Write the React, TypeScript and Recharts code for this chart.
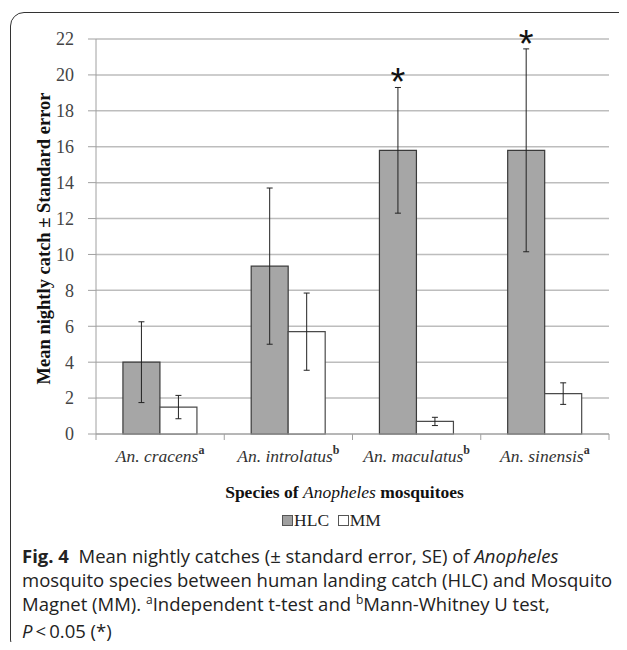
import { BarChart, Bar, XAxis, YAxis, CartesianGrid, ErrorBar, LabelList } from "recharts";

const species = ["An. cracens", "An. introlatus", "An. maculatus", "An. sinensis"];
const testMarks = ["a", "b", "b", "a"];
const hlcMean = [4.0, 9.35, 15.8, 15.8];
const hlcSE = [2.25, 4.35, 3.5, 5.65];
const mmMean = [1.5, 5.7, 0.7, 2.25];
const mmSE = [0.65, 2.15, 0.23, 0.6];
const significance = ["", "", "*", "*"];
const yTicks = [0, 2, 4, 6, 8, 10, 12, 14, 16, 18, 20, 22];

const data = species.map((name, i) => ({
  name,
  mark: testMarks[i],
  hlc: hlcMean[i],
  hlcErr: hlcSE[i],
  mm: mmMean[i],
  mmErr: mmSE[i],
  sig: significance[i],
}));

const serif = "'Liberation Serif', 'Times New Roman', serif";

const SpeciesTick = (props: any) => {
  const { x, y, payload, index } = props;
  const half = payload.offset || 64;
  return (
    <g>
      <line x1={x - half} y1={y} x2={x - half} y2={y + 6} stroke="#a0a0a0" />
      {index === species.length - 1 && (
        <line x1={x + half} y1={y} x2={x + half} y2={y + 6} stroke="#a0a0a0" />
      )}
      <text x={x} y={y + 28} textAnchor="middle" fontFamily={serif} fontSize={17.5} fill="#333">
        <tspan fontStyle="italic">{payload.value}</tspan>
        <tspan fontWeight="bold" fontSize={12} dy={-8}>
          {testMarks[index]}
        </tspan>
      </text>
    </g>
  );
};

const Star = (props: any) => {
  const { x, y, width, height, value, index } = props;
  if (!significance[index]) return null;
  const errTop = y - (hlcSE[index] / value) * height;
  return (
    <text
      x={x + width / 2}
      y={errTop + 8}
      textAnchor="middle"
      fontFamily="'Liberation Sans', Arial, sans-serif"
      fontSize={38}
      fill="#111"
    >
      {significance[index]}
    </text>
  );
};

const YTitle = (props: any) => {
  const { viewBox } = props;
  const cx = viewBox.x + 44;
  const cy = viewBox.y + viewBox.height / 2 + 2;
  return (
    <text
      x={cx}
      y={cy}
      transform={`rotate(-90, ${cx}, ${cy})`}
      textAnchor="middle"
      dominantBaseline="central"
      fontFamily={serif}
      fontWeight="bold"
      fontSize={18.5}
      fill="#111"
    >
      Mean nightly catch ± Standard error
    </text>
  );
};

const XTitle = (props: any) => {
  const { viewBox } = props;
  return (
    <text
      x={viewBox.x + viewBox.width / 2 - 8}
      y={viewBox.y + 64}
      textAnchor="middle"
      fontFamily={serif}
      fontSize={17.5}
      fill="#111"
    >
      <tspan fontWeight="bold">Species of </tspan>
      <tspan fontStyle="italic">Anopheles</tspan>
      <tspan fontWeight="bold"> mosquitoes</tspan>
    </text>
  );
};

const sq = (fill: string) => (
  <span
    style={{
      display: "inline-block",
      width: 9,
      height: 9,
      background: fill,
      border: "1px solid #555",
      marginRight: 1,
      verticalAlign: "0px",
    }}
  />
);

const supStyle = {
  fontSize: 12,
  verticalAlign: "baseline",
  position: "relative" as const,
  top: -7,
};

export default function App() {
  return (
    <div
      style={{
        position: "relative",
        width: 627,
        height: 650,
        margin: -8,
        overflow: "hidden",
        background: "#fff",
      }}
    >
      <div
        style={{
          position: "absolute",
          left: 10,
          top: 12,
          width: 660,
          height: 640,
          border: "1.5px solid #333",
          borderRadius: 14,
        }}
      />
      <div style={{ position: "absolute", left: 0, top: 0 }}>
        <BarChart
          width={627}
          height={540}
          data={data}
          margin={{ top: 39, right: 18, left: 0, bottom: 76 }}
          barCategoryGap="21%"
          barGap={0}
        >
          <CartesianGrid vertical={false} stroke="#bdbdbd" strokeWidth={1.5} />
          <XAxis
            dataKey="name"
            height={30}
            stroke="#a0a0a0"
            tickLine={false}
            tickSize={0}
            tickMargin={0}
            interval={0}
            tick={<SpeciesTick />}
            label={<XTitle />}
          />
          <YAxis
            width={96}
            domain={[0, 22]}
            ticks={yTicks}
            interval={0}
            stroke="#a0a0a0"
            tickSize={8}
            tickMargin={14}
            tick={{ fontFamily: serif, fontSize: 18, fill: "#444" }}
            label={<YTitle />}
          />
          <Bar dataKey="hlc" fill="#a6a6a6" stroke="#3a3a3a" strokeWidth={1.2} isAnimationActive={false}>
            <ErrorBar dataKey="hlcErr" width={3} stroke="#222" strokeWidth={1} />
            <LabelList dataKey="hlc" content={<Star />} />
          </Bar>
          <Bar dataKey="mm" fill="#ffffff" stroke="#4a4a4a" strokeWidth={1.2} isAnimationActive={false}>
            <ErrorBar dataKey="mmErr" width={3} stroke="#222" strokeWidth={1} />
          </Bar>
        </BarChart>
      </div>
      <div
        style={{
          position: "absolute",
          top: 510,
          left: 0,
          width: 627,
          textAlign: "center",
          fontFamily: serif,
          fontSize: 17.5,
          color: "#222",
          paddingLeft: 36,
          boxSizing: "border-box",
        }}
      >
        {sq("#a0a0a0")}HLC&nbsp;&nbsp;{sq("#ffffff")}MM
      </div>
      <div
        style={{
          position: "absolute",
          top: 544,
          left: 22,
          fontFamily: "'Open Sans', 'Noto Sans', sans-serif",
          fontSize: 18.5,
          lineHeight: "24px",
          color: "#222",
          whiteSpace: "nowrap",
        }}
      >
        <div>
          <b>Fig. 4</b>&nbsp; Mean nightly catches (± standard error, SE) of <i>Anopheles</i>
        </div>
        <div>mosquito species between human landing catch (HLC) and Mosquito</div>
        <div>
          Magnet (MM). <span style={supStyle}>a</span>Independent t-test and{" "}
          <span style={supStyle}>b</span>Mann-Whitney U test,
        </div>
        <div>
          <i>P</i>&thinsp;&lt;&thinsp;0.05 (*)
        </div>
      </div>
    </div>
  );
}
